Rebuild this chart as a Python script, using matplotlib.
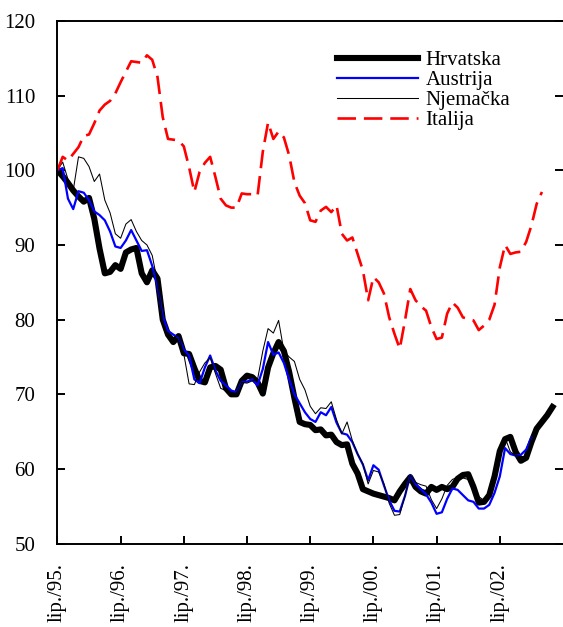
import matplotlib
matplotlib.use('Agg')
import matplotlib.pyplot as plt
import numpy as np

plt.rcParams['font.family'] = ['Liberation Serif', 'DejaVu Serif']

# monthly index, lip. 1995 = 100
hrvatska = [100, 99.2, 98.3, 97.3, 96.5, 95.8, 96.3, 93.5, 89.5, 86.2,
            86.4, 87.3, 86.8, 89, 89.4, 89.6, 86.2, 85, 86.6, 85.5,
            80, 78, 77, 77.8, 75.5, 75.4, 73.5, 71.8, 71.6, 73.6,
            73.8, 73.3, 70.8, 70, 70, 71.8, 72.5, 72.3, 71.6, 70.1,
            73.6, 75.5, 77, 75.8, 73, 69.5, 66.3, 66, 65.9, 65.2,
            65.3, 64.5, 64.6, 63.6, 63.2, 63.3, 60.7, 59.4, 57.3, 57,
            56.7, 56.5, 56.3, 56.1, 55.8, 57, 58, 58.9, 57.6, 57,
            56.7, 57.6, 57.2, 57.6, 57.3, 57.6, 58.7, 59.2, 59.3, 57.6,
            55.5, 55.6, 56.5, 59, 62.4, 64, 64.3, 62.3, 61.1, 61.5,
            63.6, 65.4, 66.3, 67.2, 68.3]

austrija = [100, 100.3, 96.2, 94.8, 97.2, 97, 96, 94.5, 94, 93.3,
            91.8, 89.8, 89.6, 90.6, 92, 90.6, 89.2, 89.3, 87.2, 84.5,
            80.5, 78.5, 78, 77.6, 76, 75.2, 72, 71.5, 73.6, 75.2,
            73.2, 71.8, 71.2, 70.5, 70.3, 71.6, 71.7, 72, 71.2, 73.4,
            77, 75.3, 75.6, 74.2, 72, 70, 68.8, 67.6, 66.7, 66.3,
            67.6, 67.2, 68.3, 66.2, 64.8, 64.6, 63.6, 62, 60.6, 58.5,
            60.5, 59.9, 57.8, 55.8, 54.4, 54.3, 56.4, 59.2, 58, 57.3,
            56.6, 55.5, 54, 54.2, 56, 57.4, 57.2, 56.5, 55.8, 55.6,
            54.7, 54.7, 55.2, 56.8, 59, 62.8, 62, 61.8, 61.9, 62.6,
            64.2]

njemacka = [100, 101.1, 98.8, 97.3, 101.8, 101.6, 100.5, 98.5, 99.5, 96,
            94.3, 91.5, 90.9, 92.8, 93.4, 91.8, 90.6, 90, 88.6, 85,
            79.8, 77.8, 77.6, 77.9, 75.4, 71.4, 71.3, 73, 74.2, 74.9,
            72.8, 70.8, 70.5, 70, 70.2, 71.6, 71.5, 71.8, 72, 75.8,
            78.8, 78.2, 79.9, 75.8, 75, 74.4, 72, 70.6, 68.4, 67.4,
            68.2, 68.1, 69, 66.6, 64.7, 66.3, 63.8, 62, 60.7, 58,
            59.8, 59.6, 58, 55.4, 53.8, 53.9, 56.4, 59.2, 58.2, 57.9,
            57.7, 55.9, 54.7, 56, 57.8, 58.6, 58.9, 58.8, 58.6, 57.6,
            56.3, 55.8, 56.3, 59.6, 62.6, 64.2, 62.3, 61.8, 61.7, 61.6,
            64.2]

italija = [100, 101.8, 101.3, 102.2, 103.1, 104.6, 104.8, 106.3, 108, 108.8,
           109.3, 110.3, 111.8, 113.2, 114.6, 114.5, 114.4, 115.4, 114.8, 112.5,
           107.1, 104.2, 104.1, 104, 103.2, 100.4, 97.1, 99.8, 101, 101.8,
           99.1, 96.2, 95.3, 95, 95, 96.9, 96.8, 96.8, 96.6, 102.5,
           106.4, 104.2, 105.2, 104.4, 102, 98.4, 96.6, 95.6, 93.3, 93.1,
           94.6, 95.1, 94.4, 95.3, 91.5, 90.6, 91, 88.8, 86.6, 82.6,
           85.7, 85, 83.5, 80.3, 78.1, 76.1, 79.9, 84.1, 82.6, 81.8,
           81.2, 79, 77.4, 77.6, 80.8, 82.3, 81.6, 80.3, 80.1, 79.9,
           78.6, 79.2, 80, 82, 87, 90, 88.8, 89, 89.1, 90.4,
           92.6, 95.5, 97.1]

x_labels = ['lip./95.', 'lip./96.', 'lip./97.', 'lip./98.',
            'lip./99.', 'lip./00.', 'lip./01.', 'lip./02.']

fig = plt.figure(figsize=(5.63, 6.27), dpi=100)
ax = fig.add_axes([0.102, 0.1329, 0.898, 0.8337])

ax.plot(np.arange(len(hrvatska)), hrvatska, color='black', lw=4.4,
        solid_joinstyle='round', label='Hrvatska')
ax.plot(np.arange(len(austrija)), austrija, color='#0000ff', lw=1.6,
        label='Austrija')
ax.plot(np.arange(len(njemacka)), njemacka, color='black', lw=0.75,
        label='Njemačka')
ax.plot(np.arange(len(italija)), italija, color='#ff0000', lw=1.9,
        dashes=(7, 3), dash_capstyle='butt', label='Italija')

ax.set_xlim(0, 96)
ax.set_ylim(50, 120)
ax.set_yticks(np.arange(50, 121, 10))
ax.set_xticks(np.arange(0, 12 * len(x_labels), 12))
ax.set_xticklabels(x_labels, rotation=90, va='top', ha='center')

for s in ['left', 'bottom', 'top']:
    ax.spines[s].set_linewidth(1.4)
ax.spines['right'].set_visible(False)

ax.tick_params(axis='both', direction='in', length=6, width=1.4,
               labelsize=15)
ax.tick_params(axis='y', right=True, pad=16)
ax.tick_params(axis='x', pad=14)

ax.legend(loc='upper left', bbox_to_anchor=(0.553, 0.944), frameon=False,
          fontsize=15, handlelength=3.9, handletextpad=0.35,
          labelspacing=0.03, borderpad=0, borderaxespad=0)

fig.savefig('out.png', dpi=100)
